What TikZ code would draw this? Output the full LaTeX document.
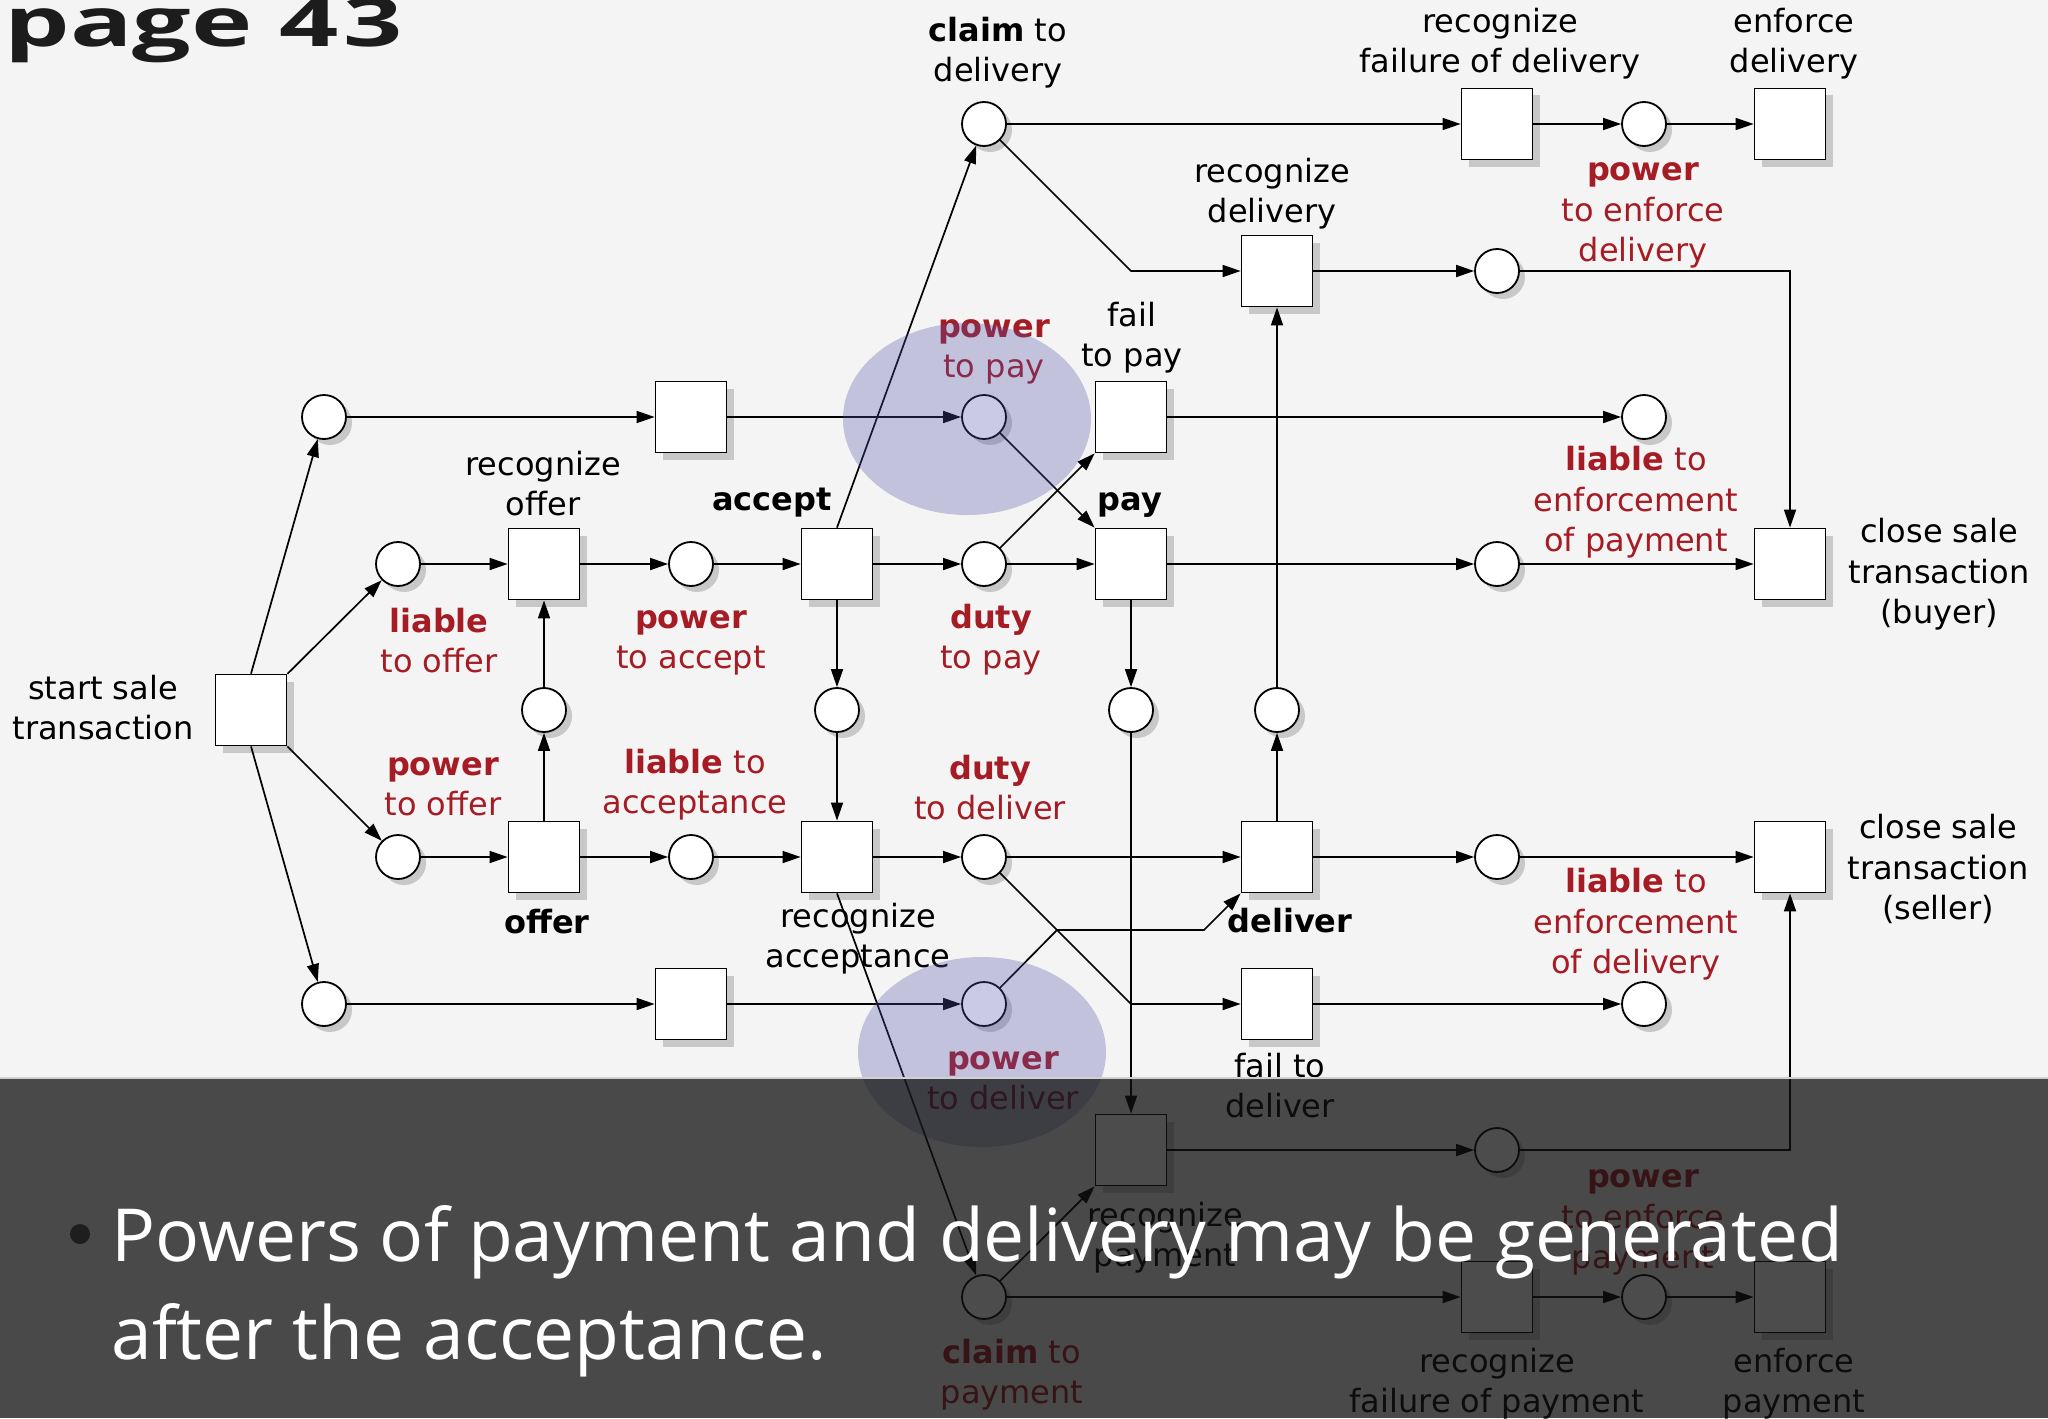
\documentclass[tikz,border=0pt]{standalone}
\usepackage{fontspec}
\usetikzlibrary{arrows.meta,shadows}
\newfontfamily\dvs{DejaVu Sans}
\newfontfamily\osans{Open Sans}
\definecolor{bgc}{RGB}{244,244,244}
\definecolor{redc}{RGB}{165,28,36}
\definecolor{shc}{RGB}{200,200,200}
\definecolor{hlc}{RGB}{80,80,170}
\definecolor{ovc}{RGB}{17,17,17}
\definecolor{titc}{RGB}{28,28,28}
\definecolor{edgec}{RGB}{208,208,208}
\definecolor{bulc}{RGB}{30,30,30}
\begin{document}
\begin{tikzpicture}[x=0.5pt,y=-0.5pt,
 pl/.style={circle,draw,fill=white,line width=0.9pt,minimum size=22pt,inner sep=0pt,
   general shadow={fill=shc,shadow xshift=3pt,shadow yshift=-3pt}},
 tr/.style={rectangle,draw,fill=white,line width=0.9pt,minimum width=35.5pt,minimum height=35.5pt,inner sep=0pt,
   general shadow={fill=shc,shadow xshift=3.5pt,shadow yshift=-3.5pt}},
 arc/.style={-{Triangle[length=9pt,width=6pt]},line width=0.85pt},
 lab/.style={font=\dvs\fontsize{16}{20.25}\selectfont,align=center,inner sep=0pt,yshift=-1.6pt},
 rlab/.style={lab,text=redc},
 hl/.style={fill=hlc,opacity=0.3}]
\fill[bgc] (0,0) rectangle (2048,1418);
\useasboundingbox (0,0) rectangle (2048,1418);

% title
\node[anchor=base west,inner sep=0pt,text=titc,font=\osans\bfseries\fontsize{34}{40}\selectfont] (title) at (4,47) {\resizebox{199pt}{\height}{page 4\kern1.5pt 3}};

% transitions
\node[tr] (Tstart) at (251,710) {};
\node[tr] (Ttopmid) at (691,417) {};
\node[tr] (Trecoffer) at (544,564) {};
\node[tr] (Taccept) at (837,564) {};
\node[tr] (Tfailpay) at (1131,417) {};
\node[tr] (Tpay) at (1131,564) {};
\node[tr] (Trecdel) at (1277,271) {};
\node[tr] (Trecfaildel) at (1497,124) {};
\node[tr] (Tenfdel) at (1790,124) {};
\node[tr] (Tclosebuyer) at (1790,564) {};
\node[tr] (Toffer) at (544,857) {};
\node[tr] (Trecacc) at (837,857) {};
\node[tr] (Tdeliver) at (1277,857) {};
\node[tr] (Tcloseseller) at (1790,857) {};
\node[tr] (Tbotmid) at (691,1004) {};
\node[tr] (Tfaildel) at (1277,1004) {};
\node[tr] (Trecpay) at (1131,1150) {};
\node[tr] (Trecfailpay) at (1497,1297) {};
\node[tr] (Tenfpay) at (1790,1297) {};

% places
\node[pl] (Ptop) at (324,417) {};
\node[pl] (Pliaboffer) at (398,564) {};
\node[pl] (Ppowaccept) at (691,564) {};
\node[pl] (Pclaimdel) at (984,124) {};
\node[pl] (Ppowpay) at (984,417) {};
\node[pl] (Pdutypay) at (984,564) {};
\node[pl] (Pa2) at (1497,271) {};
\node[pl] (Ppowenfdel) at (1644,124) {};
\node[pl] (Pliabenfpay) at (1644,417) {};
\node[pl] (Pc6) at (1497,564) {};
\node[pl] (Pmidoffer) at (544,710) {};
\node[pl] (Paccmid) at (837,710) {};
\node[pl] (Ppaymid) at (1131,710) {};
\node[pl] (Pdelmid) at (1277,710) {};
\node[pl] (Ppowoffer) at (398,857) {};
\node[pl] (Pliabacc) at (691,857) {};
\node[pl] (Pdutydel) at (984,857) {};
\node[pl] (Pf17) at (1497,857) {};
\node[pl] (Pbottom) at (324,1004) {};
\node[pl] (Ppowdel) at (984,1004) {};
\node[pl] (Pliabenfdel) at (1644,1004) {};
\node[pl] (Ph17) at (1497,1150) {};
\node[pl] (Pclaimpay) at (984,1297) {};
\node[pl] (Ppowenfpay) at (1644,1297) {};

\coordinate (k1) at (1131,271);
\coordinate (k2) at (1131,1004);
\coordinate (k3) at (1057,930);
\coordinate (k4) at (1204,930);

% connectors
\draw[arc] (Tstart.north) -- (Ptop);
\draw[arc] (Tstart) -- (Pliaboffer);
\draw[arc] (Tstart) -- (Ppowoffer);
\draw[arc] (Tstart.south) -- (Pbottom);
\draw[arc] (Ptop) -- (Ttopmid);
\draw[arc] (Ttopmid) -- (Ppowpay);
\draw[arc] (Pliaboffer) -- (Trecoffer);
\draw[arc] (Trecoffer) -- (Ppowaccept);
\draw[arc] (Ppowaccept) -- (Taccept);
\draw[arc] (Taccept) -- (Pdutypay);
\draw[arc] (Pdutypay) -- (Tpay);
\draw[arc] (Pdutypay) -- (Tfailpay);
\draw[arc] (Ppowpay) -- (Tpay);
\draw[arc] (Taccept.north) -- (Pclaimdel);
\draw[arc] (Taccept) -- (Paccmid);
\draw[arc] (Paccmid) -- (Trecacc);
\draw[arc] (Pclaimdel) -- (Trecfaildel);
\draw[arc] (Trecfaildel) -- (Ppowenfdel);
\draw[arc] (Ppowenfdel) -- (Tenfdel);
\draw[arc] (Pclaimdel) -- (k1) -- (Trecdel);
\draw[arc] (Trecdel) -- (Pa2);
\draw[arc] (Pa2) -| (Tclosebuyer);
\draw[arc] (Tfailpay) -- (Pliabenfpay);
\draw[arc] (Tpay) -- (Pc6);
\draw[arc] (Pc6) -- (Tclosebuyer);
\draw[arc] (Tpay) -- (Ppaymid);
\draw[arc] (Ppaymid) -- (Trecpay);
\draw[arc] (Pdelmid) -- (Trecdel);
\draw[arc] (Tdeliver) -- (Pdelmid);
\draw[arc] (Ppowoffer) -- (Toffer);
\draw[arc] (Toffer) -- (Pmidoffer);
\draw[arc] (Pmidoffer) -- (Trecoffer);
\draw[arc] (Toffer) -- (Pliabacc);
\draw[arc] (Pliabacc) -- (Trecacc);
\draw[arc] (Trecacc) -- (Pdutydel);
\draw[arc] (Pdutydel) -- (Tdeliver);
\draw[arc] (Pdutydel) -- (k2) -- (Tfaildel);
\draw[arc] (Ppowdel) -- (k3) -- (k4) -- (Tdeliver.south west);
\draw[arc] (Pbottom) -- (Tbotmid);
\draw[arc] (Tbotmid) -- (Ppowdel);
\draw[arc] (Trecacc.south) -- (Pclaimpay);
\draw[arc] (Pclaimpay) -- (Trecpay);
\draw[arc] (Pclaimpay) -- (Trecfailpay);
\draw[arc] (Trecfailpay) -- (Ppowenfpay);
\draw[arc] (Ppowenfpay) -- (Tenfpay);
\draw[arc] (Trecpay) -- (Ph17);
\draw[arc] (Ph17) -| (Tcloseseller);
\draw[arc] (Tdeliver) -- (Pf17);
\draw[arc] (Pf17) -- (Tcloseseller);
\draw[arc] (Tfaildel) -- (Pliabenfdel);

% labels
\node[lab] (Lstart) at (103,708) {\strut start sale\\\strut transaction};
\node[lab] (Lrecoffer) at (543,484) {\strut recognize\\\strut offer};
\node[lab] (Laccept) at (772,499) {\strut\textbf{accept}};
\node[lab] (Lpay) at (1130,499) {\strut\textbf{pay}};
\node[rlab] (Lliaboffer) at (439,641) {\strut\textbf{liable}\\\strut to offer};
\node[rlab] (Lpowaccept) at (691,637) {\strut\textbf{power}\\\strut to accept};
\node[rlab] (Ldutypay) at (991,637) {\strut\textbf{duty}\\\strut to pay};
\node[rlab] (Lpowpay) at (994,346) {\strut\textbf{power}\\\strut to pay};
\node[lab] (Lfailpay) at (1132,335) {\strut fail\\\strut to pay};
\node[lab] (Lrecdel) at (1272,191) {\strut recognize\\\strut delivery};
\node[lab] (Lclaimdel) at (998,50) {\strut\textbf{claim} to\\\strut delivery};
\node[lab] (Lrecfaildel) at (1500,41) {\strut recognize\\\strut failure of delivery};
\node[lab] (Lenfdel) at (1794,41) {\strut enforce\\\strut delivery};
\node[rlab] (Lpowenfdel) at (1643,210) {\strut\textbf{power}\\\strut to enforce\\\strut delivery};
\node[rlab] (Lliabenfpay) at (1636,500) {\strut\textbf{liable} to\\\strut enforcement\\\strut of payment};
\node[lab] (Lclosebuyer) at (1939,572) {\strut close sale\\\strut transaction\\\strut (buyer)};
\node[rlab] (Lpowoffer) at (443,784) {\strut\textbf{power}\\\strut to offer};
\node[rlab] (Lliabacc) at (695,782) {\strut\textbf{liable} to\\\strut acceptance};
\node[rlab] (Ldutydel) at (990,788) {\strut\textbf{duty}\\\strut to deliver};
\node[lab] (Loffer) at (547,922) {\strut\textbf{offer}};
\node[lab] (Lrecacc) at (858,936) {\strut recognize\\\strut acceptance};
\node[lab] (Ldeliver) at (1290,921) {\strut\textbf{deliver}};
\node[rlab] (Lliabenfdel) at (1636,922) {\strut\textbf{liable} to\\\strut enforcement\\\strut of delivery};
\node[lab] (Lcloseseller) at (1938,868) {\strut close sale\\\strut transaction\\\strut (seller)};
\node[rlab] (Lpowdel) at (1003,1078) {\strut\textbf{power}\\\strut to deliver};
\node[lab] (Lfaildel) at (1280,1086) {\strut fail to\\\strut deliver};
\node[lab] (Lrecpay) at (1165,1235) {\strut recognize\\\strut payment};
\node[rlab] (Lpowenfpay) at (1643,1217) {\strut\textbf{power}\\\strut to enforce\\\strut payment};
\node[rlab] (Lclaimpay) at (1012,1372) {\strut\textbf{claim} to\\\strut payment};
\node[lab] (Lrecfailpay) at (1497,1381) {\strut recognize\\\strut failure of payment};
\node[lab] (Lenfpay) at (1794,1381) {\strut enforce\\\strut payment};

% highlights
\fill[hl] (967,419) ellipse [x radius=62pt,y radius=48pt];
\fill[hl] (982,1052) ellipse [x radius=62pt,y radius=47.5pt];

% dark overlay with bullet text
\fill[ovc,opacity=0.75] (0,1079) rectangle (2048,1418);
\draw[edgec,line width=1pt] (0,1078) -- (2048,1078);
\fill[bulc] (80,1234) circle [radius=5pt];
\node[anchor=north west,inner sep=0pt,align=left,text=white,font=\osans\fontsize{36.6}{49}\selectfont] (bullet) at (111,1192) {\strut Powers of payment and delivery may be generated\\\strut after the acceptance.};
\end{tikzpicture}
\end{document}
